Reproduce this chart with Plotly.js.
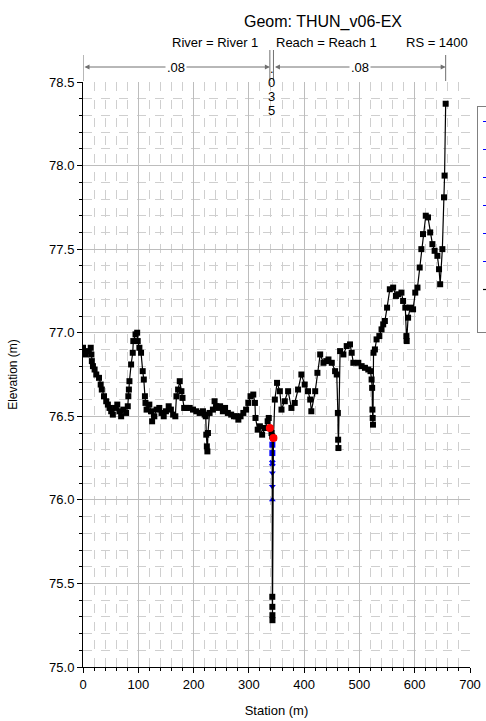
<!DOCTYPE html>
<html>
<head>
<meta charset="utf-8">
<script src="https://cdn.plot.ly/plotly-3.0.1.min.js"></script>
<style>
  html, body { margin: 0; padding: 0; background: #ffffff; }
  #chart { width: 486px; height: 721px; }
</style>
</head>
<body>
<div id="chart"></div>
<script>
// Cross section geometry: station (m) and ground elevation (m)
const groundStation = [
  0, 2, 5, 10, 14, 15, 16, 18, 21, 24, 29, 32, 34, 38, 42, 45, 48, 51, 54, 58,
  62, 66, 69, 73, 78, 81, 82, 83, 84, 87, 90, 91, 95, 98, 99, 102, 105, 108, 110, 112,
  113, 115, 120, 123, 125, 129, 133, 138, 142, 146, 150, 155, 159, 163, 167, 169, 172, 175, 178, 180,
  183, 187, 193, 199, 205, 211, 217, 220, 222, 223, 224, 225, 226, 229, 235, 238, 241, 245, 248, 253,
  257, 262, 268, 273, 277, 281, 285, 290, 295, 299, 303, 308, 311, 312, 316, 320, 324, 329, 334, 336,
  338, 341, 342.2, 342.4, 342.5, 342.6, 342.7, 344.5, 347, 351, 356, 359, 365, 371, 377, 383, 389, 395, 401, 407,
  411, 413, 420, 424, 429, 435, 440, 444, 450, 456, 459, 461, 461.5, 462, 465, 471, 477, 483, 486, 489,
  498, 504, 510, 516, 520, 522, 523, 523.5, 524, 524.5, 525.5, 528, 531, 536, 540, 543, 546, 550, 555, 561,
  566, 570, 576, 579, 583, 585, 585.5, 588, 592, 597, 601, 605, 609, 612, 615, 620, 624, 628, 632, 636,
  641, 644, 646, 650, 653, 654, 656
];
const groundElev = [
  76.91, 76.88, 76.87, 76.89, 76.91, 76.87, 76.83, 76.80, 76.78, 76.75, 76.73, 76.69, 76.66, 76.62, 76.59, 76.57, 76.55, 76.53, 76.51, 76.55,
  76.57, 76.53, 76.50, 76.54, 76.52, 76.56, 76.62, 76.66, 76.71, 76.81, 76.88, 76.95, 76.99, 77.00, 76.95, 76.91, 76.88, 76.77, 76.72, 76.62,
  76.58, 76.54, 76.57, 76.53, 76.47, 76.50, 76.54, 76.55, 76.52, 76.50, 76.53, 76.56, 76.54, 76.51, 76.50, 76.62, 76.66, 76.71, 76.65, 76.61,
  76.55, 76.55, 76.55, 76.54, 76.53, 76.52, 76.53, 76.51, 76.50, 76.39, 76.32, 76.29, 76.40, 76.52, 76.54, 76.59, 76.56, 76.55, 76.56, 76.53,
  76.55, 76.52, 76.51, 76.50, 76.50, 76.48, 76.50, 76.52, 76.54, 76.58, 76.62, 76.63, 76.58, 76.49, 76.42, 76.44, 76.39, 76.43, 76.47, 76.49,
  76.43, 76.40, 76.38, 75.42, 75.36, 75.31, 75.28, 76.37, 76.60, 76.70, 76.65, 76.54, 76.59, 76.65, 76.55, 76.58, 76.66, 76.75, 76.69, 76.65,
  76.60, 76.53, 76.65, 76.76, 76.87, 76.82, 76.83, 76.84, 76.82, 76.77, 76.75, 76.52, 76.36, 76.31, 76.89, 76.87, 76.92, 76.93, 76.88, 76.82,
  76.82, 76.80, 76.79, 76.78, 76.77, 76.72, 76.67, 76.54, 76.49, 76.45, 76.88, 76.90, 76.96, 76.98, 77.02, 77.05, 77.07, 77.15, 77.26, 77.27,
  77.22, 77.23, 77.24, 77.19, 77.15, 76.98, 76.95, 77.09, 77.15, 77.14, 77.24, 77.27, 77.39, 77.50, 77.59, 77.70, 77.69, 77.60, 77.53, 77.49,
  77.46, 77.38, 77.29, 77.50, 77.81, 77.94, 78.37
];

// Bank stations (left, right)
const bankStation = [338, 344.5];
const bankElev = [76.43, 76.37];

// Water surface profiles in the main channel slot
const wsNames = ['WS PF 6', 'WS PF 5', 'WS PF 4', 'WS PF 3', 'WS PF 2', 'WS PF 1'];
const wsElev = [76.33, 76.28, 76.22, 76.16, 76.08, 76.00];
const wsStation = [342.5, 342.5, 342.5, 342.5, 342.5, 342.5];
const wsSymbol = ['square', 'square', 'x', 'triangle-down', 'triangle-down', 'triangle-up'];

// Manning's n breakpoints and values
const nStation = [0, 338, 344.5, 656];
const nValue = ['.08', '.035', '.08'];

const FONT = 'Liberation Sans, Arial, Helvetica, sans-serif';

// plot area geometry in pixels
const PL = 83, PR = 470, PT = 82, PB = 667;
const yPaper = px => (PB - px) / (PB - PT);
const xPaper = px => (px - PL) / (PR - PL);

const traces = [];
wsNames.forEach((name, i) => {
  traces.push({
    x: [wsStation[i]], y: [wsElev[i]],
    type: 'scatter', mode: 'lines+markers', name: name,
    line: { color: '#0000ff', width: 1 },
    marker: { color: '#0000ff', size: 6, symbol: wsSymbol[i] },
    hoverinfo: 'x+y'
  });
});
traces.push({
  x: groundStation, y: groundElev,
  type: 'scatter', mode: 'lines+markers', name: 'Ground',
  line: { color: '#000000', width: 1.2 },
  marker: { color: '#000000', size: 6, symbol: 'square' }
});
traces.push({
  x: bankStation, y: bankElev,
  type: 'scatter', mode: 'markers', name: 'Bank Sta',
  marker: { color: '#ff0000', size: 8, symbol: 'circle' }
});

// Manning's n annotations above the plot
const annotations = [];
const shapes = [];
const arrowY = yPaper(67);
const gray = '#707070';

nStation.forEach((s, i) => {
  const top = (i === 1 || i === 2) ? 50 : 55;
  shapes.push({
    type: 'line', xref: 'x', yref: 'paper',
    x0: s, x1: s, y0: yPaper(top), y1: yPaper(81),
    line: { color: gray, width: 1 }
  });
});

nValue.forEach((v, i) => {
  const s0 = nStation[i], s1 = nStation[i + 1];
  const mid = (s0 + s1) / 2;
  if (s1 - s0 > 50) {
    annotations.push({
      xref: 'x', yref: 'paper', x: s1, y: arrowY,
      axref: 'x', ayref: 'paper', ax: s0, ay: arrowY,
      text: '', showarrow: true, arrowhead: 2, arrowside: 'end+start',
      arrowsize: 1, arrowwidth: 1, arrowcolor: gray, standoff: 0, startstandoff: 0
    });
    annotations.push({
      xref: 'x', yref: 'paper', x: mid, y: arrowY,
      text: v, showarrow: false, bgcolor: '#ffffff',
      font: { family: FONT, size: 13, color: '#000000' },
      xanchor: 'center', yanchor: 'middle', borderpad: 1
    });
  } else {
    // narrow channel value written vertically, one character per row
    v.split('').forEach((ch, k) => {
      annotations.push({
        xref: 'x', yref: 'paper', x: mid, y: yPaper(68 + 14 * k),
        text: ch, showarrow: false,
        font: { family: FONT, size: 13, color: '#000000' },
        xanchor: 'center', yanchor: 'middle'
      });
    });
  }
});

// subtitle line
const sub = [
  { t: 'River = River 1', px: 170 },
  { t: 'Reach = Reach 1', px: 274 },
  { t: 'RS = 1400', px: 404 }
];
sub.forEach(o => {
  annotations.push({
    xref: 'paper', yref: 'paper', x: xPaper(o.px), y: yPaper(42),
    text: o.t, showarrow: false, xanchor: 'left', yanchor: 'middle',
    font: { family: FONT, size: 13, color: '#000000' }
  });
});

const layout = {
  width: 486, height: 721,
  margin: { l: PL, r: 486 - PR, t: PT, b: 721 - PB, autoexpand: false },
  paper_bgcolor: '#ffffff', plot_bgcolor: '#ffffff',
  font: { family: FONT, size: 13, color: '#000000' },
  title: {
    text: 'Geom: THUN_v06-EX',
    font: { family: FONT, size: 16, color: '#000000' },
    xref: 'container', x: 323 / 486, xanchor: 'center',
    yref: 'container', y: 1 - 21 / 721, yanchor: 'middle'
  },
  showlegend: true,
  legend: {
    x: xPaper(477), xanchor: 'left', y: yPaper(106), yanchor: 'top',
    bgcolor: '#ffffff', bordercolor: '#808080', borderwidth: 1,
    font: { family: FONT, size: 12, color: '#000000' },
    tracegroupgap: 9
  },
  xaxis: {
    range: [0, 700], tick0: 0, dtick: 100,
    showgrid: true, gridcolor: '#bdbdbd', gridwidth: 1,
    showline: true, linecolor: '#000000', linewidth: 1,
    ticks: 'outside', ticklen: 5, tickcolor: '#000000',
    tickfont: { family: FONT, size: 13, color: '#000000' },
    zeroline: false,
    minor: { dtick: 20, showgrid: true, gridcolor: '#cfcfcf', griddash: 'dash', gridwidth: 1,
             ticks: 'outside', ticklen: 3, tickcolor: '#000000' },
    title: { text: 'Station (m)', font: { family: FONT, size: 13, color: '#000000' }, standoff: 15 }
  },
  yaxis: {
    range: [75, 78.5], tick0: 75, dtick: 0.5, tickformat: '.1f',
    showgrid: true, gridcolor: '#bdbdbd', gridwidth: 1,
    showline: true, linecolor: '#000000', linewidth: 1,
    ticks: 'outside', ticklen: 5, tickcolor: '#000000',
    tickfont: { family: FONT, size: 13, color: '#000000' },
    zeroline: false,
    minor: { dtick: 0.1, showgrid: true, gridcolor: '#cfcfcf', griddash: 'dash', gridwidth: 1,
             ticks: 'outside', ticklen: 3, tickcolor: '#000000' },
    title: { text: 'Elevation (m)', font: { family: FONT, size: 12, color: '#000000' }, standoff: 28 }
  },
  annotations: annotations,
  shapes: shapes
};

// each legend entry in its own group so the group gap spaces the rows
traces.forEach((t, i) => { t.legendgroup = 'g' + i; });

Plotly.newPlot('chart', traces, layout, { displayModeBar: false, staticPlot: true });
</script>
</body>
</html>
